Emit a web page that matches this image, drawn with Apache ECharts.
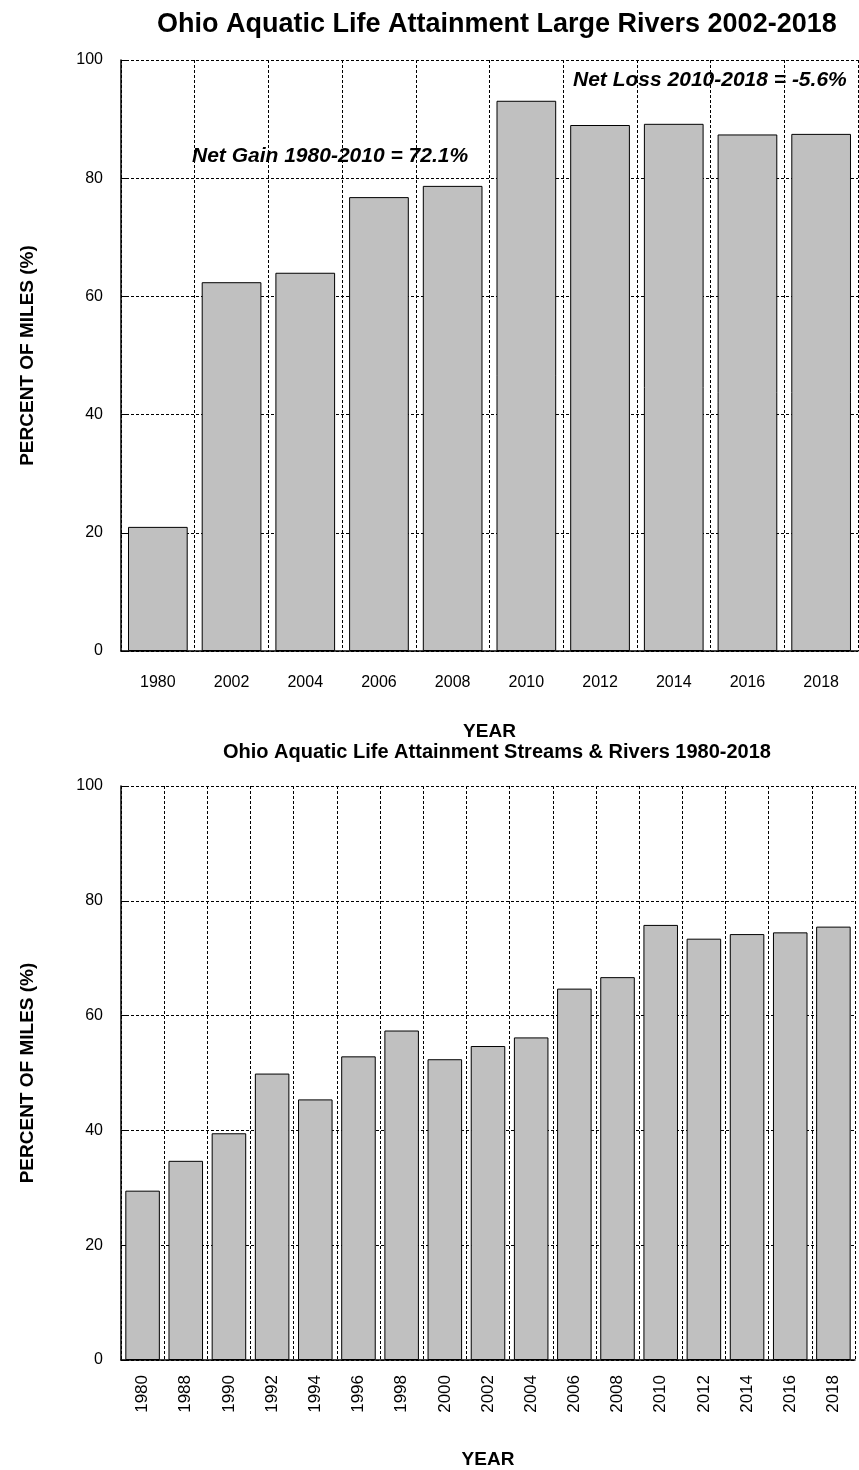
<!DOCTYPE html>
<html>
<head>
<meta charset="utf-8">
<script src="https://cdn.jsdelivr.net/npm/echarts@6/dist/echarts.min.js"></script>
<style>
html,body{margin:0;padding:0;background:#fff;}
#c{width:859px;height:1470px;}
</style>
</head>
<body>
<div id="c"></div>
<script>
// ---- data ----
const largeYears = ['1980','2002','2004','2006','2008','2010','2012','2014','2016','2018'];
const largeValues = [21.0, 62.4, 64.0, 76.8, 78.7, 93.1, 89.0, 89.2, 87.4, 87.5];

const streamYears = ['1980','1988','1990','1992','1994','1996','1998','2000','2002','2004','2006','2008','2010','2012','2014','2016','2018'];
const streamValues = [29.5, 34.7, 39.5, 49.9, 45.4, 52.9, 57.4, 52.4, 54.7, 56.2, 64.7, 66.7, 75.8, 73.4, 74.2, 74.5, 75.5];

const yTicks = [0, 20, 40, 60, 80, 100];

const title1 = 'Ohio Aquatic Life Attainment Large Rivers 2002-2018';
const title2 = 'Ohio Aquatic Life Attainment Streams & Rivers 1980-2018';
const note1 = 'Net Gain 1980-2010 = 72.1%';
const note2 = 'Net Loss 2010-2018 = -5.6%';
const xName = 'YEAR';
const yName = 'PERCENT OF MILES (%)';

// ---- chart ----
const FONT = '"Liberation Sans", Arial, sans-serif';
const dash = { color: '#000', type: [3, 2], width: 1 };

function xAxisCfg(gi, data, rotate, margin, nameGap, fs) {
  return {
    type: 'category', gridIndex: gi, data: data,
    axisLine: { show: true, lineStyle: { color: '#000', width: 1.5 } },
    axisTick: { show: false },
    axisLabel: { color: '#000', fontFamily: FONT, fontSize: fs, rotate: rotate, margin: margin, interval: 0 },
    splitLine: { show: true, interval: 0, lineStyle: dash },
    name: xName, nameLocation: 'middle', nameGap: nameGap,
    nameTextStyle: { color: '#000', fontFamily: FONT, fontWeight: 'bold', fontSize: 19 }
  };
}
function yAxisCfg(gi) {
  return {
    type: 'value', gridIndex: gi, min: 0, max: 100, interval: 20,
    axisLine: { show: true, lineStyle: { color: '#000', width: 1.5 } },
    axisTick: { show: true, inside: true, length: 6, lineStyle: { color: '#000' } },
    axisLabel: { color: '#000', fontFamily: FONT, fontSize: 16, margin: 18,
      formatter: v => yTicks.indexOf(v) >= 0 ? String(v) : '' },
    splitLine: { show: true, lineStyle: dash },
    name: yName, nameLocation: 'middle', nameGap: 84, nameRotate: 90,
    nameTextStyle: { color: '#000', fontFamily: FONT, fontWeight: 'bold', fontSize: 19 }
  };
}
const barStyle = { color: '#c0c0c0', borderColor: '#000', borderWidth: 1 };

const chart = echarts.init(document.getElementById('c'), null, { renderer: 'canvas' });
chart.setOption({
  backgroundColor: '#fff',
  animation: false,
  title: [
    { text: title1, left: 152, top: 6, textStyle: { fontFamily: FONT, fontWeight: 'bold', fontSize: 27, color: '#000' } },
    { text: title2, left: 218, top: 737, textStyle: { fontFamily: FONT, fontWeight: 'bold', fontSize: 20, color: '#000' } }
  ],
  grid: [
    { left: 121, top: 60, right: 1, height: 591 },
    { left: 121, top: 786, right: 4, height: 585 }
  ],
  xAxis: [
    xAxisCfg(0, largeYears, 0, 24, 71, 16),
    xAxisCfg(1, streamYears, 90, 15, 90, 17)
  ],
  yAxis: [ yAxisCfg(0), yAxisCfg(1) ],
  graphic: [
    { type: 'text', left: 192, top: 146, style: { text: note1, fill: '#000', font: 'italic bold 21px "Liberation Sans", Arial, sans-serif' } },
    { type: 'text', left: 573, top: 70, style: { text: note2, fill: '#000', font: 'italic bold 21px "Liberation Sans", Arial, sans-serif' } }
  ],
  series: [
    { type: 'bar', xAxisIndex: 0, yAxisIndex: 0, data: largeValues, barCategoryGap: '19%', itemStyle: barStyle },
    { type: 'bar', xAxisIndex: 1, yAxisIndex: 1, data: streamValues, barCategoryGap: '20%', itemStyle: barStyle }
  ]
});
</script>
</body>
</html>
